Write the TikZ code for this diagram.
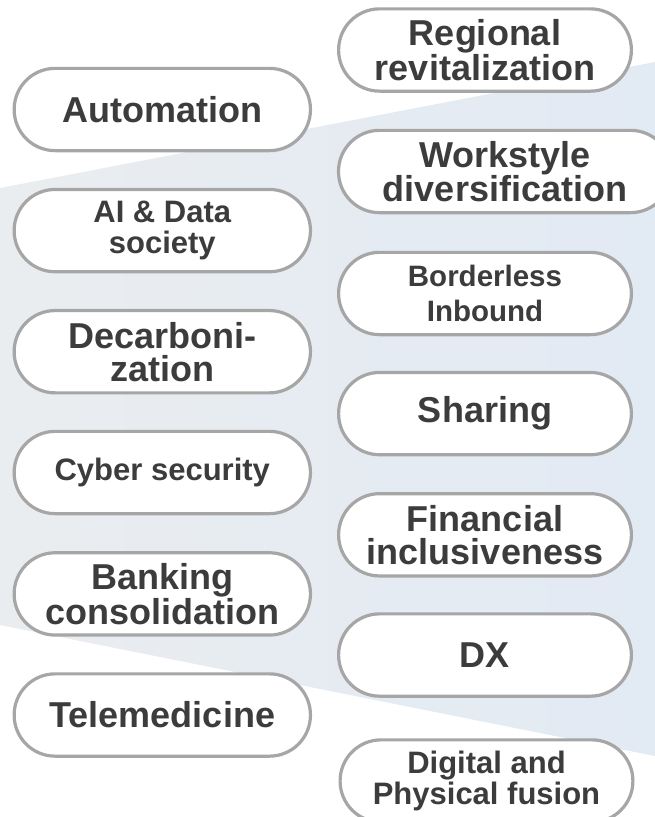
\documentclass[tikz,border=0pt]{standalone}
\usepackage{fontspec}
\setmainfont{Liberation Sans}
\definecolor{bgL}{HTML}{EAEDF0}
\definecolor{bgR}{HTML}{E2EAF4}
\definecolor{pillborder}{HTML}{A6A6A6}
\definecolor{txt}{HTML}{3C3C3C}
\tikzset{
  pill/.style={draw=pillborder, line width=3.2pt, fill=white, rounded corners=41pt,
    minimum height=82.3pt, inner sep=0pt, text=txt, align=center,
    font=\bfseries\fontsize{36}{33}\selectfont},
  leftpill/.style={pill, minimum width=296.3pt},
  rightpill/.style={pill, minimum width=292.8pt},
  smalltext/.style={font=\bfseries\fontsize{31}{31}\selectfont},
  tinytext/.style={font=\bfseries\fontsize{29.5}{35}\selectfont},
}
\begin{document}
\begin{tikzpicture}[x=1pt,y=-1pt]
\clip (0,0) rectangle (655,817);
\shade[left color=bgL, right color=bgR] (0,188) -- (655,62) -- (655,756) -- (0,625) -- cycle;
% left column
\node[leftpill] (automation) at (162.3,109.5) {Automation};
\node[leftpill, smalltext] (aidata) at (162.3,230.6) {AI \& Data\\society};
\node[leftpill] (decarb) at (162.3,351.7) {Decarboni-\\zation};
\node[leftpill, smalltext] (cyber) at (162.3,472.5) {Cyber security};
\node[leftpill] (banking) at (162.3,593.9) {Banking\\consolidation};
\node[leftpill] (tele) at (162.3,715) {Telemedicine};
% right column
\node[rightpill] (regional) at (485,50) {Regional\\revitalization};
\node[rightpill, minimum width=333pt] (workstyle) at (505,171.5) {Workstyle\\diversification};
\node[rightpill, tinytext] (borderless) at (485,293.5) {Borderless\\Inbound};
\node[rightpill] (sharing) at (485,413.6) {Sharing};
\node[rightpill] (financial) at (485,534.8) {Financial\\inclusiveness};
\node[rightpill] (dx) at (485,655) {DX};
\node[rightpill, smalltext] (digital) at (486.5,781) {Digital and\\Physical fusion};
\end{tikzpicture}
\end{document}
